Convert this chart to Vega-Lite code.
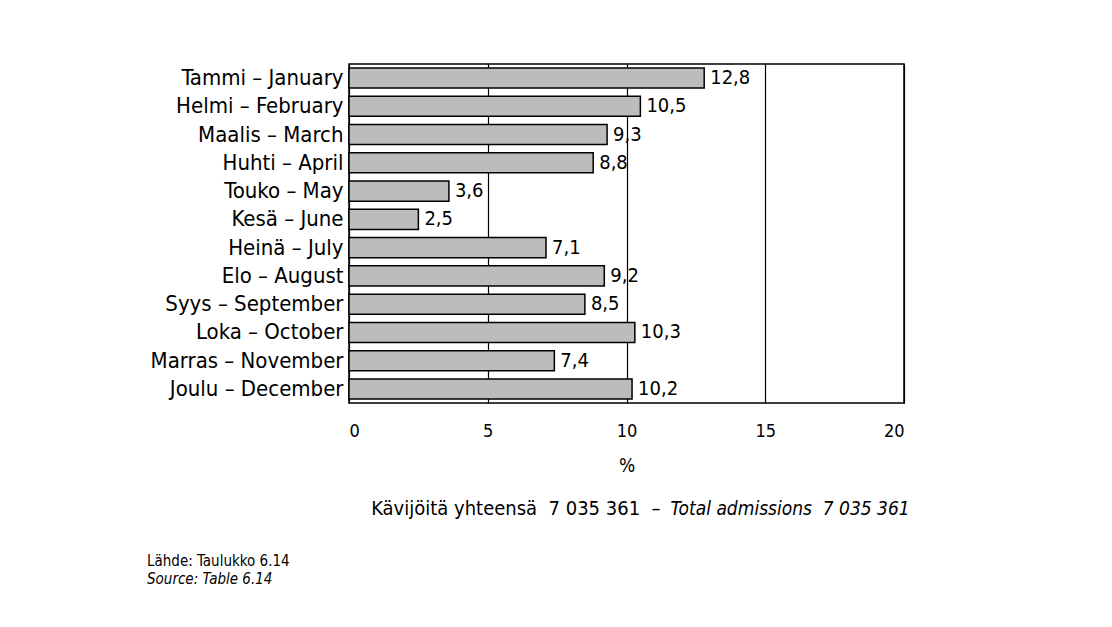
{
  "$schema": "https://vega.github.io/schema/vega-lite/v6.json",
  "width": 555,
  "height": 339,
  "autosize": "none",
  "padding": {"left": 349, "top": 64, "right": 208, "bottom": 224},
  "background": "white",
  "config": {
    "locale": {"number": {"decimal": ",", "thousands": " ", "grouping": [3], "currency": ["", ""]}},
    "view": {"stroke": "black", "strokeWidth": 1.5},
    "font": "DejaVu Sans Condensed, Liberation Sans, sans-serif",
    "text": {"font": "DejaVu Sans Condensed, Liberation Sans, sans-serif"}
  },
  "title": {
    "text": "Lähde: Taulukko 6.14",
    "subtitle": "Source: Table 6.14",
    "orient": "bottom",
    "anchor": "start",
    "frame": "group",
    "dx": -202,
    "offset": 36,
    "font": "DejaVu Sans Condensed, Liberation Sans, sans-serif",
    "subtitleFont": "DejaVu Sans Condensed, Liberation Sans, sans-serif",
    "fontSize": 15,
    "fontWeight": "normal",
    "subtitleFontSize": 15,
    "subtitleFontStyle": "italic",
    "subtitlePadding": 3,
    "color": "black",
    "subtitleColor": "black"
  },
  "data": {
    "values": [
      {"month": "Tammi – January", "pct": 12.8},
      {"month": "Helmi – February", "pct": 10.5},
      {"month": "Maalis – March", "pct": 9.3},
      {"month": "Huhti – April", "pct": 8.8},
      {"month": "Touko – May", "pct": 3.6},
      {"month": "Kesä – June", "pct": 2.5},
      {"month": "Heinä – July", "pct": 7.1},
      {"month": "Elo – August", "pct": 9.2},
      {"month": "Syys – September", "pct": 8.5},
      {"month": "Loka – October", "pct": 10.3},
      {"month": "Marras – November", "pct": 7.4},
      {"month": "Joulu – December", "pct": 10.2}
    ]
  },
  "layer": [
    {
      "mark": {"type": "bar", "fill": "#bcbcbc", "stroke": "black", "strokeWidth": 1.5},
      "encoding": {
        "y": {
          "field": "month",
          "type": "nominal",
          "sort": null,
          "scale": {"paddingInner": 0.29, "paddingOuter": 0.14},
          "axis": {
            "labelFontSize": 22,
            "labelLimit": 400,
            "labelColor": "black",
            "labelPadding": 6,
            "ticks": false,
            "domain": false,
            "title": "Total admissions\u00a0\u00a07 035 361",
            "titleAngle": 0,
            "titleX": 321,
            "titleY": 444,
            "titleAlign": "left",
            "titleBaseline": "middle",
            "titleFontSize": 19,
            "titleFontWeight": "normal",
            "titleFontStyle": "italic",
            "titleColor": "black",
            "titleLimit": 600
          }
        },
        "x": {
          "field": "pct",
          "type": "quantitative",
          "scale": {"domain": [0, 20], "nice": false},
          "axis": {
            "orient": "bottom",
            "values": [0, 5, 10, 15, 20],
            "title": "%",
            "titleFontSize": 19,
            "titleFontWeight": "normal",
            "titleColor": "black",
            "titlePadding": 16,
            "labelFontSize": 18,
            "labelColor": "black",
            "labelPadding": 19,
            "ticks": false,
            "domain": false,
            "grid": true,
            "gridColor": "black",
            "gridOpacity": 1,
            "gridWidth": 1.2
          }
        }
      }
    },
    {
      "mark": {"type": "text", "align": "left", "baseline": "middle", "dx": 6, "fontSize": 20, "color": "black"},
      "encoding": {
        "y": {"field": "month", "type": "nominal", "sort": null},
        "x": {
          "field": "pct",
          "type": "quantitative",
          "axis": {
            "orient": "bottom",
            "labels": false,
            "ticks": false,
            "domain": false,
            "grid": false,
            "title": "Kävijöitä yhteensä\u00a0\u00a07 035 361\u00a0\u00a0–",
            "titleX": 311,
            "titleY": 105,
            "titleAlign": "right",
            "titleBaseline": "middle",
            "titleFontSize": 20,
            "titleFontWeight": "normal",
            "titleColor": "black",
            "titleLimit": 600
          }
        },
        "text": {"field": "pct", "type": "quantitative", "format": ".1f"}
      }
    }
  ],
  "resolve": {"axis": {"x": "independent"}}
}
